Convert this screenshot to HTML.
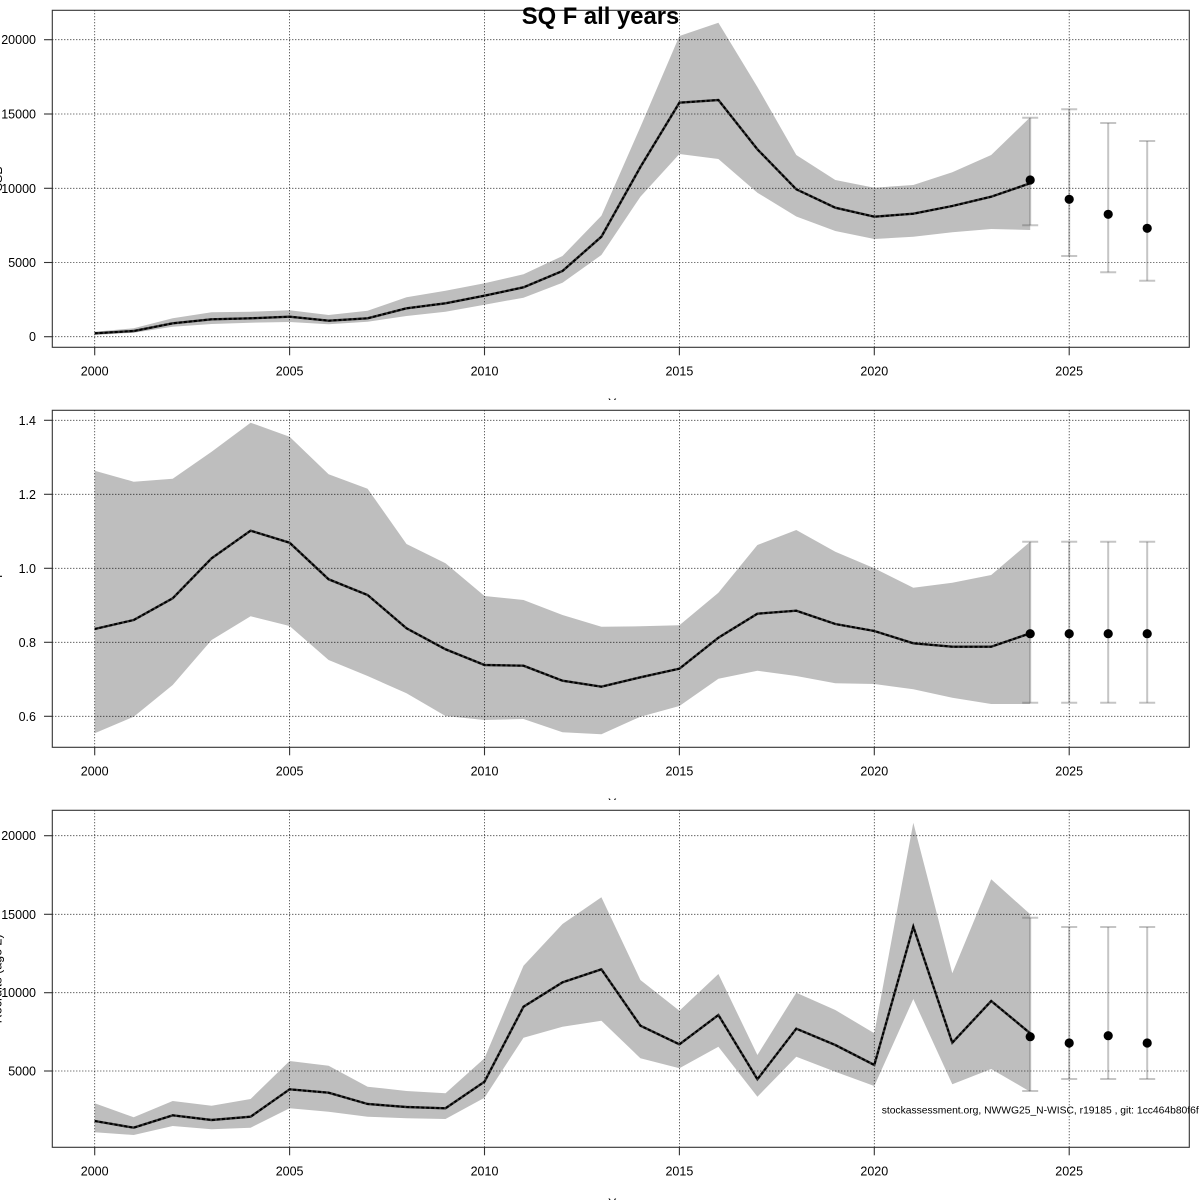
<!DOCTYPE html>
<html><head><meta charset="utf-8"><style>
html,body{margin:0;padding:0;background:#fff;width:1200px;height:1200px;overflow:hidden}
svg{display:block}
text{font-family:"Liberation Sans",Arial,sans-serif}
</style></head><body>
<svg width="1200" height="1200" viewBox="0 0 1200 1200" xmlns="http://www.w3.org/2000/svg">
<rect width="1200" height="1200" fill="#fff"/>

<!-- ================= PANEL 1 ================= -->
<svg x="0" y="0" width="1200" height="400" overflow="hidden">
<polygon fill="#bebebe" points="94.7,331.7 133.7,328.3 172.7,318.3 211.6,312.3 250.6,311.7 289.6,310.3 328.6,315 367.6,310.7 406.5,297.3 445.5,290.7 484.5,283.3 523.5,274.3 562.5,256 601.4,215.7 640.4,127 679.4,36 718.4,22.7 757.4,87 796.3,155 835.3,180 874.3,187.7 913.3,185 952.3,172.3 991.2,155 1030.2,117.3 1030.2,230 991.2,229 952.3,232.3 913.3,236.7 874.3,239 835.3,231 796.3,216.5 757.4,192.7 718.4,159 679.4,154 640.4,196.7 601.4,255 562.5,282.7 523.5,297.7 484.5,304.7 445.5,311.7 406.5,316 367.6,321.7 328.6,324.3 289.6,322 250.6,322.7 211.6,324 172.7,326.7 133.7,332.7 94.7,335"/>
<g stroke="#000" stroke-width="0.8" stroke-dasharray="1,2" fill="none">
<line x1="52.3" x2="1189.3" y1="39.7" y2="39.7"/>
<line x1="52.3" x2="1189.3" y1="114" y2="114"/>
<line x1="52.3" x2="1189.3" y1="188.3" y2="188.3"/>
<line x1="52.3" x2="1189.3" y1="262.5" y2="262.5"/>
<line x1="52.3" x2="1189.3" y1="336.7" y2="336.7"/>
<line x1="94.7" x2="94.7" y1="10.3" y2="347.3"/>
<line x1="289.6" x2="289.6" y1="10.3" y2="347.3"/>
<line x1="484.5" x2="484.5" y1="10.3" y2="347.3"/>
<line x1="679.4" x2="679.4" y1="10.3" y2="347.3"/>
<line x1="874.3" x2="874.3" y1="10.3" y2="347.3"/>
<line x1="1069.2" x2="1069.2" y1="10.3" y2="347.3"/>
</g>
<polyline fill="none" stroke="#333" stroke-width="2.4" points="94.7,333.3 133.7,331 172.7,323.3 211.6,319.3 250.6,318.3 289.6,316.7 328.6,320.7 367.6,318.3 406.5,308.3 445.5,303.3 484.5,295.7 523.5,287.3 562.5,271 601.4,236.7 640.4,167 679.4,102.7 718.4,100 757.4,149.3 796.3,189.3 835.3,207.7 874.3,216.7 913.3,213.7 952.3,206 991.2,196.7 1030.2,183.3"/>
<polyline fill="none" stroke="#000" stroke-width="2" stroke-dasharray="3,2" points="94.7,333.3 133.7,331 172.7,323.3 211.6,319.3 250.6,318.3 289.6,316.7 328.6,320.7 367.6,318.3 406.5,308.3 445.5,303.3 484.5,295.7 523.5,287.3 562.5,271 601.4,236.7 640.4,167 679.4,102.7 718.4,100 757.4,149.3 796.3,189.3 835.3,207.7 874.3,216.7 913.3,213.7 952.3,206 991.2,196.7 1030.2,183.3"/>
<g stroke="rgba(90,90,90,0.35)" stroke-width="2" fill="none">
<line x1="1030.2" x2="1030.2" y1="117.7" y2="225.3"/><line x1="1022.2" x2="1038.2" y1="117.7" y2="117.7"/><line x1="1022.2" x2="1038.2" y1="225.3" y2="225.3"/>
<line x1="1069.2" x2="1069.2" y1="109.3" y2="256"/><line x1="1061.2" x2="1077.2" y1="109.3" y2="109.3"/><line x1="1061.2" x2="1077.2" y1="256" y2="256"/>
<line x1="1108.2" x2="1108.2" y1="123" y2="272.3"/><line x1="1100.2" x2="1116.2" y1="123" y2="123"/><line x1="1100.2" x2="1116.2" y1="272.3" y2="272.3"/>
<line x1="1147.2" x2="1147.2" y1="141" y2="280.7"/><line x1="1139.2" x2="1155.2" y1="141" y2="141"/><line x1="1139.2" x2="1155.2" y1="280.7" y2="280.7"/>
</g>
<g fill="#000">
<circle cx="1030.2" cy="180" r="4.6"/><circle cx="1069.2" cy="199.3" r="4.6"/><circle cx="1108.2" cy="214.3" r="4.6"/><circle cx="1147.2" cy="228.3" r="4.6"/>
</g>
<rect x="52.3" y="10.3" width="1137" height="337" fill="none" stroke="#333" stroke-width="1.1"/>
<g stroke="#333" stroke-width="1.1">
<line x1="44" x2="52.3" y1="39.7" y2="39.7"/><line x1="44" x2="52.3" y1="114" y2="114"/><line x1="44" x2="52.3" y1="188.3" y2="188.3"/><line x1="44" x2="52.3" y1="262.5" y2="262.5"/><line x1="44" x2="52.3" y1="336.7" y2="336.7"/>
<line x1="94.7" x2="94.7" y1="347.3" y2="355.3"/><line x1="289.6" x2="289.6" y1="347.3" y2="355.3"/><line x1="484.5" x2="484.5" y1="347.3" y2="355.3"/><line x1="679.4" x2="679.4" y1="347.3" y2="355.3"/><line x1="874.3" x2="874.3" y1="347.3" y2="355.3"/><line x1="1069.2" x2="1069.2" y1="347.3" y2="355.3"/>
</g>
<g font-size="12.5" fill="#000" text-anchor="end">
<text x="36" y="44.2">20000</text><text x="36" y="118.5">15000</text><text x="36" y="192.8">10000</text><text x="36" y="267">5000</text><text x="36" y="341.2">0</text>
</g>
<g font-size="12.5" fill="#000" text-anchor="middle">
<text x="94.7" y="375.5">2000</text><text x="289.6" y="375.5">2005</text><text x="484.5" y="375.5">2010</text><text x="679.4" y="375.5">2015</text><text x="874.3" y="375.5">2020</text><text x="1069.2" y="375.5">2025</text>
<text x="620.8" y="407.5">Year</text>
<text transform="translate(2,178.8) rotate(-90)">SSB</text>
</g>
</svg>

<!-- ================= PANEL 2 ================= -->
<svg x="0" y="400" width="1200" height="400" overflow="hidden">
<g transform="translate(0,-400)">
<polygon fill="#bebebe" points="94.7,470.7 133.7,481.7 172.7,478.7 211.6,451.7 250.6,422.7 289.6,436.7 328.6,474.3 367.6,488.7 406.5,544 445.5,563.3 484.5,596 523.5,600 562.5,615 601.4,626.7 640.4,626.3 679.4,625.3 718.4,592.7 757.4,545 796.3,530 835.3,551.7 874.3,568.3 913.3,587.7 952.3,582.7 991.2,575 1030.2,541.7 1030.2,704 991.2,704 952.3,697.7 913.3,689.3 874.3,684 835.3,683.3 796.3,676 757.4,670.7 718.4,678.7 679.4,706 640.4,716.7 601.4,734.3 562.5,732.3 523.5,719 484.5,720 445.5,716 406.5,693.3 367.6,676 328.6,660 289.6,626 250.6,616.3 211.6,640 172.7,685 133.7,716.7 94.7,733.3"/>
<g stroke="#000" stroke-width="0.8" stroke-dasharray="1,2" fill="none">
<line x1="52.3" x2="1189.3" y1="420.3" y2="420.3"/>
<line x1="52.3" x2="1189.3" y1="494.3" y2="494.3"/>
<line x1="52.3" x2="1189.3" y1="568.3" y2="568.3"/>
<line x1="52.3" x2="1189.3" y1="642.3" y2="642.3"/>
<line x1="52.3" x2="1189.3" y1="716.3" y2="716.3"/>
<line x1="94.7" x2="94.7" y1="410.3" y2="747.3"/>
<line x1="289.6" x2="289.6" y1="410.3" y2="747.3"/>
<line x1="484.5" x2="484.5" y1="410.3" y2="747.3"/>
<line x1="679.4" x2="679.4" y1="410.3" y2="747.3"/>
<line x1="874.3" x2="874.3" y1="410.3" y2="747.3"/>
<line x1="1069.2" x2="1069.2" y1="410.3" y2="747.3"/>
</g>
<polyline fill="none" stroke="#333" stroke-width="2.4" points="94.7,629 133.7,620 172.7,598.3 211.6,558.3 250.6,530.7 289.6,542.7 328.6,579.3 367.6,595 406.5,628.3 445.5,649.3 484.5,665 523.5,665.7 562.5,680.7 601.4,686.7 640.4,677.3 679.4,668.7 718.4,637.7 757.4,613.7 796.3,610.7 835.3,624 874.3,631 913.3,643.3 952.3,646.7 991.2,646.7 1030.2,633.3"/>
<polyline fill="none" stroke="#000" stroke-width="2" stroke-dasharray="3,2" points="94.7,629 133.7,620 172.7,598.3 211.6,558.3 250.6,530.7 289.6,542.7 328.6,579.3 367.6,595 406.5,628.3 445.5,649.3 484.5,665 523.5,665.7 562.5,680.7 601.4,686.7 640.4,677.3 679.4,668.7 718.4,637.7 757.4,613.7 796.3,610.7 835.3,624 874.3,631 913.3,643.3 952.3,646.7 991.2,646.7 1030.2,633.3"/>
<g stroke="rgba(90,90,90,0.35)" stroke-width="2" fill="none">
<line x1="1030.2" x2="1030.2" y1="541.7" y2="702.7"/><line x1="1022.2" x2="1038.2" y1="541.7" y2="541.7"/><line x1="1022.2" x2="1038.2" y1="702.7" y2="702.7"/>
<line x1="1069.2" x2="1069.2" y1="541.7" y2="702.7"/><line x1="1061.2" x2="1077.2" y1="541.7" y2="541.7"/><line x1="1061.2" x2="1077.2" y1="702.7" y2="702.7"/>
<line x1="1108.2" x2="1108.2" y1="541.7" y2="702.7"/><line x1="1100.2" x2="1116.2" y1="541.7" y2="541.7"/><line x1="1100.2" x2="1116.2" y1="702.7" y2="702.7"/>
<line x1="1147.2" x2="1147.2" y1="541.7" y2="702.7"/><line x1="1139.2" x2="1155.2" y1="541.7" y2="541.7"/><line x1="1139.2" x2="1155.2" y1="702.7" y2="702.7"/>
</g>
<g fill="#000">
<circle cx="1030.2" cy="633.7" r="4.6"/><circle cx="1069.2" cy="633.7" r="4.6"/><circle cx="1108.2" cy="633.7" r="4.6"/><circle cx="1147.2" cy="633.7" r="4.6"/>
</g>
<rect x="52.3" y="410.3" width="1137" height="337" fill="none" stroke="#333" stroke-width="1.1"/>
<g stroke="#333" stroke-width="1.1">
<line x1="44" x2="52.3" y1="420.3" y2="420.3"/><line x1="44" x2="52.3" y1="494.3" y2="494.3"/><line x1="44" x2="52.3" y1="568.3" y2="568.3"/><line x1="44" x2="52.3" y1="642.3" y2="642.3"/><line x1="44" x2="52.3" y1="716.3" y2="716.3"/>
<line x1="94.7" x2="94.7" y1="747.3" y2="755.3"/><line x1="289.6" x2="289.6" y1="747.3" y2="755.3"/><line x1="484.5" x2="484.5" y1="747.3" y2="755.3"/><line x1="679.4" x2="679.4" y1="747.3" y2="755.3"/><line x1="874.3" x2="874.3" y1="747.3" y2="755.3"/><line x1="1069.2" x2="1069.2" y1="747.3" y2="755.3"/>
</g>
<g font-size="12.5" fill="#000" text-anchor="end">
<text x="36" y="424.8">1.4</text><text x="36" y="498.8">1.2</text><text x="36" y="572.8">1.0</text><text x="36" y="646.8">0.8</text><text x="36" y="720.8">0.6</text>
</g>
<g font-size="12.5" fill="#000" text-anchor="middle">
<text x="94.7" y="775.5">2000</text><text x="289.6" y="775.5">2005</text><text x="484.5" y="775.5">2010</text><text x="679.4" y="775.5">2015</text><text x="874.3" y="775.5">2020</text><text x="1069.2" y="775.5">2025</text>
<text x="620.8" y="807.5">Year</text>
<text transform="translate(2,574) rotate(-90)">F</text>
</g>
</g>
</svg>

<!-- ================= PANEL 3 ================= -->
<svg x="0" y="800" width="1200" height="400" overflow="hidden">
<g transform="translate(0,-800)">
<polygon fill="#bebebe" points="94.7,1103.3 133.7,1117.3 172.7,1101 211.6,1105.7 250.6,1099 289.6,1061 328.6,1065.7 367.6,1086.7 406.5,1091 445.5,1093.3 484.5,1058.3 523.5,965.7 562.5,924 601.4,897.3 640.4,980 679.4,1010.7 718.4,974 757.4,1055 796.3,992.7 835.3,1010 874.3,1033.3 913.3,822.7 952.3,973.3 991.2,879.3 1030.2,914.3 1030.2,1091.7 991.2,1069 952.3,1084.3 913.3,999 874.3,1086 835.3,1071.7 796.3,1056.7 757.4,1096.7 718.4,1046.7 679.4,1068.3 640.4,1058.3 601.4,1020.7 562.5,1026.7 523.5,1037.7 484.5,1097.7 445.5,1119 406.5,1118.3 367.6,1116.7 328.6,1111.7 289.6,1108.3 250.6,1127.7 211.6,1129.3 172.7,1126 133.7,1135 94.7,1132.3"/>
<g stroke="#000" stroke-width="0.8" stroke-dasharray="1,2" fill="none">
<line x1="52.3" x2="1189.3" y1="835.7" y2="835.7"/>
<line x1="52.3" x2="1189.3" y1="914.3" y2="914.3"/>
<line x1="52.3" x2="1189.3" y1="992.7" y2="992.7"/>
<line x1="52.3" x2="1189.3" y1="1071" y2="1071"/>
<line x1="94.7" x2="94.7" y1="810.3" y2="1147.3"/>
<line x1="289.6" x2="289.6" y1="810.3" y2="1147.3"/>
<line x1="484.5" x2="484.5" y1="810.3" y2="1147.3"/>
<line x1="679.4" x2="679.4" y1="810.3" y2="1147.3"/>
<line x1="874.3" x2="874.3" y1="810.3" y2="1147.3"/>
<line x1="1069.2" x2="1069.2" y1="810.3" y2="1147.3"/>
</g>
<polyline fill="none" stroke="#333" stroke-width="2.4" points="94.7,1121 133.7,1127.7 172.7,1115.3 211.6,1120 250.6,1116.7 289.6,1089.3 328.6,1092.7 367.6,1104 406.5,1107 445.5,1108.3 484.5,1081.7 523.5,1006.7 562.5,982.3 601.4,969.3 640.4,1025.7 679.4,1044.3 718.4,1015 757.4,1079.3 796.3,1028.7 835.3,1045 874.3,1065 913.3,926.7 952.3,1042.7 991.2,1001 1030.2,1033.3"/>
<polyline fill="none" stroke="#000" stroke-width="2" stroke-dasharray="3,2" points="94.7,1121 133.7,1127.7 172.7,1115.3 211.6,1120 250.6,1116.7 289.6,1089.3 328.6,1092.7 367.6,1104 406.5,1107 445.5,1108.3 484.5,1081.7 523.5,1006.7 562.5,982.3 601.4,969.3 640.4,1025.7 679.4,1044.3 718.4,1015 757.4,1079.3 796.3,1028.7 835.3,1045 874.3,1065 913.3,926.7 952.3,1042.7 991.2,1001 1030.2,1033.3"/>
<g stroke="rgba(90,90,90,0.35)" stroke-width="2" fill="none">
<line x1="1030.2" x2="1030.2" y1="917.7" y2="1091"/><line x1="1022.2" x2="1038.2" y1="917.7" y2="917.7"/><line x1="1022.2" x2="1038.2" y1="1091" y2="1091"/>
<line x1="1069.2" x2="1069.2" y1="927" y2="1079"/><line x1="1061.2" x2="1077.2" y1="927" y2="927"/><line x1="1061.2" x2="1077.2" y1="1079" y2="1079"/>
<line x1="1108.2" x2="1108.2" y1="927" y2="1079"/><line x1="1100.2" x2="1116.2" y1="927" y2="927"/><line x1="1100.2" x2="1116.2" y1="1079" y2="1079"/>
<line x1="1147.2" x2="1147.2" y1="927" y2="1079"/><line x1="1139.2" x2="1155.2" y1="927" y2="927"/><line x1="1139.2" x2="1155.2" y1="1079" y2="1079"/>
</g>
<g fill="#000">
<circle cx="1030.2" cy="1036.7" r="4.6"/><circle cx="1069.2" cy="1043" r="4.6"/><circle cx="1108.2" cy="1035.7" r="4.6"/><circle cx="1147.2" cy="1043" r="4.6"/>
</g>
<text x="881.7" y="1113.5" font-size="10.3" fill="#000">stockassessment.org, NWWG25_N-WISC, r19185 , git: 1cc464b80f6f</text>
<rect x="52.3" y="810.3" width="1137" height="337" fill="none" stroke="#333" stroke-width="1.1"/>
<g stroke="#333" stroke-width="1.1">
<line x1="44" x2="52.3" y1="835.7" y2="835.7"/><line x1="44" x2="52.3" y1="914.3" y2="914.3"/><line x1="44" x2="52.3" y1="992.7" y2="992.7"/><line x1="44" x2="52.3" y1="1071" y2="1071"/>
<line x1="94.7" x2="94.7" y1="1147.3" y2="1155.3"/><line x1="289.6" x2="289.6" y1="1147.3" y2="1155.3"/><line x1="484.5" x2="484.5" y1="1147.3" y2="1155.3"/><line x1="679.4" x2="679.4" y1="1147.3" y2="1155.3"/><line x1="874.3" x2="874.3" y1="1147.3" y2="1155.3"/><line x1="1069.2" x2="1069.2" y1="1147.3" y2="1155.3"/>
</g>
<g font-size="12.5" fill="#000" text-anchor="end">
<text x="36" y="840.2">20000</text><text x="36" y="918.8">15000</text><text x="36" y="997.2">10000</text><text x="36" y="1075.5">5000</text>
</g>
<g font-size="12.5" fill="#000" text-anchor="middle">
<text x="94.7" y="1175.5">2000</text><text x="289.6" y="1175.5">2005</text><text x="484.5" y="1175.5">2010</text><text x="679.4" y="1175.5">2015</text><text x="874.3" y="1175.5">2020</text><text x="1069.2" y="1175.5">2025</text>
<text x="620.8" y="1207.5">Year</text>
<text transform="translate(1.5,978.8) rotate(-90)">Recruits (age 2)</text>
</g>
</g>
</svg>

<!-- Title -->
<text x="600.5" y="24" font-size="23.8" font-weight="bold" text-anchor="middle" fill="#000">SQ F all years</text>
</svg>
</body></html>
